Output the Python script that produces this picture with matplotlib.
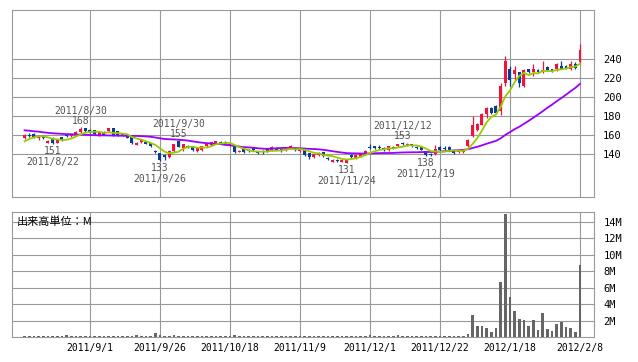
import matplotlib
matplotlib.use('Agg')
import matplotlib.pyplot as plt

# daily prices, 2011/8/12 .. 2012/2/8 (120 trading days)
opens = [157, 160, 161, 157, 159, 152, 157, 152, 158, 160,
         159, 160, 163, 167, 165, 165, 160, 163, 164, 167,
         164, 161, 161, 158, 149, 153, 153, 152, 143, 141,
         139, 137, 143, 154, 146, 148, 147, 143, 144, 148,
         149, 151, 153, 153, 148, 148, 142, 145, 144, 146,
         143, 143, 145, 143, 146, 145, 144, 146, 146, 143,
         144, 141, 137, 139, 142, 136, 132, 134, 132, 131,
         139, 136, 137, 140, 147, 148, 147, 146, 144, 147,
         148, 152, 148, 150, 147, 147, 143, 140, 140, 147,
         146, 147, 144, 142, 142, 148, 159, 165, 171, 182,
         188, 190, 185, 215, 229, 224, 226, 212, 229, 226,
         228, 226, 232, 229, 229, 233, 233, 230, 235, 237]
highs = [161, 162, 162, 160, 160, 155, 158, 156, 158, 161,
         161, 164, 168, 167, 166, 165, 164, 164, 167, 167,
         164, 162, 161, 158, 153, 155, 154, 152, 144, 141,
         140, 144, 151, 155, 151, 149, 148, 146, 148, 151,
         153, 154, 154, 154, 151, 148, 144, 145, 145, 146,
         143, 144, 145, 148, 147, 145, 146, 149, 147, 146,
         144, 141, 140, 142, 142, 137, 135, 135, 135, 135,
         140, 139, 140, 144, 151, 148, 149, 147, 148, 148,
         151, 153, 152, 151, 148, 148, 143, 141, 149, 148,
         148, 148, 145, 144, 145, 156, 180, 173, 183, 189,
         189, 192, 215, 243, 233, 233, 226, 229, 230, 235,
         229, 238, 233, 230, 236, 238, 234, 238, 237, 256]
lows = [156, 158, 157, 155, 156, 152, 151, 152, 154, 158,
        158, 159, 162, 163, 162, 160, 159, 160, 163, 159,
        159, 159, 157, 150, 149, 152, 151, 147, 141, 133,
        134, 136, 142, 147, 143, 146, 143, 142, 143, 147,
        148, 150, 150, 150, 148, 141, 142, 141, 142, 143,
        140, 140, 142, 143, 144, 142, 143, 145, 143, 142,
        138, 135, 136, 138, 137, 134, 132, 132, 132, 131,
        136, 135, 137, 140, 145, 145, 145, 143, 143, 145,
        147, 149, 148, 147, 145, 144, 138, 138, 139, 143,
        144, 143, 140, 141, 141, 147, 158, 164, 170, 178,
        182, 182, 181, 212, 212, 218, 210, 211, 225, 222,
        225, 225, 227, 226, 227, 229, 229, 228, 230, 235]
closes = [160, 159, 158, 159, 157, 154, 152, 155, 155, 159,
          160, 163, 166, 164, 163, 161, 163, 160, 167, 160,
          160, 160, 157, 152, 152, 155, 151, 148, 142, 134,
          137, 143, 151, 147, 150, 146, 144, 146, 148, 150,
          153, 154, 150, 151, 150, 142, 143, 142, 143, 144,
          141, 142, 143, 147, 144, 143, 145, 148, 144, 146,
          139, 137, 140, 141, 138, 135, 134, 133, 134, 135,
          137, 139, 140, 143, 146, 146, 146, 144, 148, 146,
          150, 150, 151, 148, 146, 144, 139, 139, 145, 144,
          145, 144, 141, 143, 144, 155, 170, 172, 182, 188,
          183, 183, 212, 238, 218, 228, 215, 228, 226, 229,
          226, 228, 228, 227, 235, 230, 230, 235, 231, 249]

# moving averages as shown (5 day, 25 day)
ma5 = [153.3, 155.8, 157.6, 158.6, 158.6, 157.4, 156.0, 155.4, 154.6, 155.0,
       156.2, 158.4, 160.6, 162.4, 163.2, 163.4, 163.4, 162.2, 162.8, 162.2,
       162.0, 161.4, 160.8, 157.8, 156.2, 155.2, 153.4, 151.6, 149.6, 146.0,
       142.4, 140.8, 141.4, 142.4, 145.6, 147.4, 147.6, 146.6, 146.8, 146.8,
       148.2, 150.2, 151.0, 151.6, 151.6, 149.4, 147.2, 145.6, 144.0, 142.8,
       142.6, 142.4, 142.6, 143.4, 143.4, 143.8, 144.4, 145.4, 144.8, 145.2,
       144.4, 142.8, 141.2, 140.6, 139.0, 138.2, 137.6, 136.2, 134.8, 134.2,
       134.6, 135.6, 137.0, 138.8, 141.0, 142.8, 144.2, 145.0, 146.0, 146.0,
       146.8, 147.6, 149.0, 149.0, 149.0, 147.8, 145.6, 143.2, 142.6, 142.2,
       142.4, 143.4, 143.8, 143.4, 143.4, 145.4, 150.6, 156.8, 164.6, 173.4,
       179.0, 181.6, 189.6, 200.8, 206.8, 215.8, 222.2, 225.4, 223.0, 225.2,
       224.8, 227.4, 227.4, 227.2, 228.4, 229.2, 230.0, 231.4, 232.2, 235.0]
ma25 = [164.9, 164.5, 163.9, 163.5, 162.8, 162.3, 161.8, 161.5, 161.2, 160.9,
        160.8, 160.5, 160.4, 160.2, 160.0, 159.8, 159.6, 159.6, 159.5, 159.4,
        159.3, 159.2, 159.1, 159.0, 159.0, 158.8, 158.5, 158.1, 157.4, 156.5,
        155.8, 155.5, 155.3, 155.0, 154.6, 154.1, 153.3, 152.5, 151.9, 151.4,
        151.0, 150.7, 150.3, 149.6, 149.2, 148.5, 147.8, 147.2, 146.9, 146.6,
        146.0, 145.6, 145.4, 145.6, 146.0, 146.3, 146.4, 146.2, 146.1, 146.0,
        145.7, 145.4, 145.2, 144.9, 144.4, 143.7, 142.9, 142.2, 141.5, 140.9,
        140.7, 140.6, 140.5, 140.5, 140.6, 140.8, 140.9, 141.0, 141.0, 141.1,
        141.4, 141.6, 141.7, 141.8, 141.8, 142.0, 142.1, 142.1, 142.2, 142.5,
        142.9, 143.3, 143.6, 144.0, 144.3, 145.0, 146.3, 147.6, 149.1, 150.8,
        152.3, 153.8, 156.5, 160.1, 163.0, 166.1, 168.7, 171.8, 174.9, 178.2,
        181.5, 185.0, 188.6, 191.9, 195.5, 198.9, 202.4, 206.1, 209.6, 213.8]

# volume in millions of shares
volume = [0.12, 0.12, 0.12, 0.12, 0.12, 0.12, 0.12, 0.12, 0.12, 0.24,
          0.12, 0.12, 0.12, 0.12, 0.12, 0.12, 0.12, 0.12, 0.12, 0.12,
          0.12, 0.12, 0.12, 0.12, 0.2, 0.12, 0.12, 0.12, 0.49, 0.28,
          0.12, 0.12, 0.24, 0.12, 0.12, 0.12, 0.12, 0.12, 0.12, 0.12,
          0.12, 0.12, 0.12, 0.12, 0.12, 0.24, 0.12, 0.12, 0.12, 0.12,
          0.12, 0.12, 0.12, 0.12, 0.12, 0.12, 0.12, 0.12, 0.12, 0.12,
          0.12, 0.12, 0.12, 0.12, 0.12, 0.12, 0.12, 0.12, 0.12, 0.12,
          0.12, 0.12, 0.12, 0.12, 0.2, 0.12, 0.12, 0.12, 0.12, 0.12,
          0.24, 0.12, 0.12, 0.12, 0.12, 0.12, 0.12, 0.12, 0.12, 0.12,
          0.12, 0.12, 0.12, 0.12, 0.15, 0.4, 2.67, 1.33, 1.33, 1.09,
          0.6, 1.09, 6.67, 14.9, 4.85, 3.15, 2.2, 2.06, 1.33, 2.06,
          0.85, 2.9, 0.97, 0.73, 1.58, 1.82, 1.2, 1.09, 0.6, 8.73]

tick_pos = [14, 29, 44, 59, 74, 89, 104, 119]
tick_labels = ['2011/9/1', '2011/9/26', '2011/10/18', '2011/11/9',
               '2011/12/1', '2011/12/22', '2012/1/18', '2012/2/8']
price_ticks = [140, 160, 180, 200, 220, 240]
vol_ticks = [2, 4, 6, 8, 10, 12, 14]

# marked highs / lows: candle index, date text, kind
mark_idx = [6, 12, 29, 33, 69, 81, 86]
mark_dates = ['2011/8/22', '2011/8/30', '2011/9/26', '2011/9/30',
              '2011/11/24', '2011/12/12', '2011/12/19']
mark_kind = ['low', 'high', 'low', 'high', 'low', 'high', 'low']

UP = '#f0143c'
DOWN = '#0a3c96'
GRID = '#999999'
MONO = 'DejaVu Sans Mono'

fig = plt.figure(figsize=(6.38, 3.62), dpi=100)
ax = fig.add_axes([12 / 638, 1 - 197 / 362, 582 / 638, 187 / 362])
axv = fig.add_axes([12 / 638, 1 - 337 / 362, 582 / 638, 125 / 362])

n = len(closes)
xs = list(range(n))
colors = [UP if c >= o else DOWN for o, c in zip(opens, closes)]
bottoms = [min(o, c) for o, c in zip(opens, closes)]
heights = [max(abs(c - o), 0.4) for o, c in zip(opens, closes)]

ax.vlines(xs, lows, highs, colors=colors, linewidth=0.9, zorder=3)
ax.bar(xs, heights, bottom=bottoms, width=0.64, color=colors, linewidth=0, zorder=4)
ax.plot(xs, ma25, color='#9900ff', linewidth=1.3, zorder=5)
ax.plot(xs, ma5, color='#99cc00', linewidth=1.3, zorder=5)

for i, d, k in zip(mark_idx, mark_dates, mark_kind):
    if k == 'high':
        v, off1, off2 = highs[i], 6, 16
    else:
        v, off1, off2 = lows[i], -7, -18
    ax.annotate(str(v), (i, v), xytext=(0, off1), textcoords='offset pixels',
                ha='center', va='center', fontsize=7, family=MONO, color='#555555')
    ax.annotate(d, (i, v), xytext=(0, off2), textcoords='offset pixels',
                ha='center', va='center', fontsize=7, family=MONO, color='#555555')

ax.set_xlim(-2.7, 122)
ax.set_ylim(94.7, 291.6)
ax.set_xticks(tick_pos)
ax.set_yticks(price_ticks)
ax.yaxis.tick_right()
ax.tick_params(axis='x', length=0, labelbottom=False)
ax.tick_params(axis='y', length=0, pad=6.5, labelsize=7.5, labelcolor='black')
for lab in ax.get_yticklabels():
    lab.set_family(MONO)

axv.bar(xs, volume, width=0.6, color='#666666', linewidth=0, zorder=3)
axv.set_xlim(-2.7, 122)
axv.set_ylim(0, 15.2)
axv.set_xticks(tick_pos)
axv.set_xticklabels(tick_labels, family=MONO, fontsize=7)
axv.set_yticks(vol_ticks)
axv.set_yticklabels([f'{v}M' for v in vol_ticks], family=MONO, fontsize=7.5)
axv.yaxis.tick_right()
axv.tick_params(axis='x', length=0, pad=4.5)
axv.tick_params(axis='y', length=0, pad=7)
axv.text(0.009, 0.92, '出来高単位：M', transform=axv.transAxes, ha='left', va='center',
         fontsize=8, family=['Noto Sans CJK JP', 'DejaVu Sans'], zorder=6)

for a in (ax, axv):
    a.grid(True, color=GRID, linewidth=0.8)
    a.set_axisbelow(True)
    for s in a.spines.values():
        s.set_color(GRID)
        s.set_linewidth(0.8)

fig.savefig('out.png', dpi=100)
